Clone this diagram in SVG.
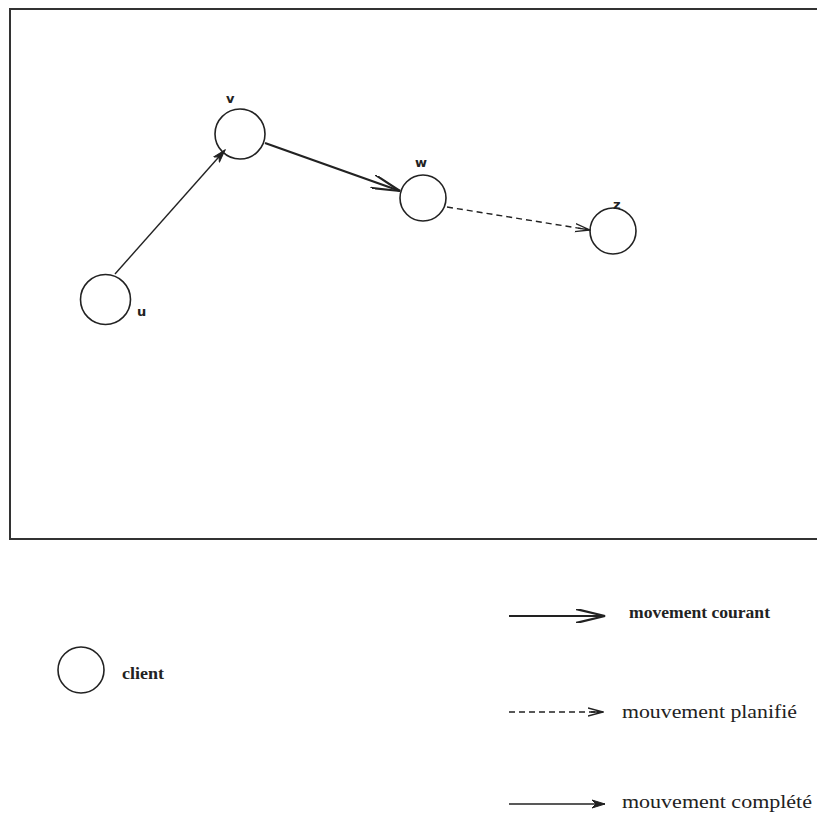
<svg xmlns="http://www.w3.org/2000/svg" width="817" height="822" viewBox="0 0 817 822">
<style>
.node{fill:none;stroke:#222;stroke-width:1.6}
.lbl{font-family:"DejaVu Sans","Liberation Sans",sans-serif;font-size:13px;font-weight:bold;fill:#222}
.leg{font-family:"Liberation Serif",serif;fill:#222}
.thin{stroke:#222;stroke-width:1.4;fill:none}
.thick{stroke:#222;stroke-width:2.2;fill:none}
.dash{stroke:#222;stroke-width:1.4;fill:none;stroke-dasharray:6 4}
</style>
<defs>
<marker id="open" markerWidth="30" markerHeight="14" refX="29" refY="7" orient="auto" markerUnits="userSpaceOnUse">
<path d="M0,0 L29,7 L0,14" fill="none" stroke="#222" stroke-width="2.2"/>
</marker>
<marker id="small" markerWidth="14" markerHeight="10" refX="13" refY="5" orient="auto" markerUnits="userSpaceOnUse">
<path d="M0,1 L13,5 L0,9 L4,5 Z" fill="#222" stroke="#222" stroke-width="1"/>
</marker>
<marker id="dopen" markerWidth="16" markerHeight="10" refX="15" refY="5" orient="auto" markerUnits="userSpaceOnUse">
<path d="M0,1 L15,5 L0,9 M3,5 L15,5" fill="none" stroke="#222" stroke-width="1.3"/>
</marker>
</defs>
<rect x="10" y="9" width="830" height="530" fill="none" stroke="#333" stroke-width="2"/>
<g id="connectors">
<line class="thin" x1="115" y1="274" x2="225" y2="150" marker-end="url(#small)"/>
<line class="thick" x1="265" y1="143" x2="400" y2="191" marker-end="url(#open)"/>
<line class="dash" x1="447" y1="207" x2="590" y2="230" marker-end="url(#dopen)"/>
</g>
<g id="node-u"><circle class="node" cx="105.5" cy="299.5" r="25"/><text class="lbl" x="137" y="316">u</text></g>
<g id="node-v"><circle class="node" cx="240" cy="134" r="25"/><text class="lbl" x="226" y="103">v</text></g>
<g id="node-w"><circle class="node" cx="423" cy="198" r="23"/><text class="lbl" x="415" y="167">w</text></g>
<g id="node-z"><circle class="node" cx="613" cy="231" r="23"/><text class="lbl" x="613" y="209">z</text></g>
<g id="legend">
<g id="leg-client"><circle class="node" cx="81" cy="670" r="23"/><text class="leg" x="122" y="679" font-size="17" font-weight="bold" textLength="42" lengthAdjust="spacingAndGlyphs">client</text></g>
<g id="leg-courant"><line class="thick" x1="509" y1="616" x2="605" y2="616" marker-end="url(#open)"/><text class="leg" x="629" y="618" font-size="17" font-weight="bold" textLength="141" lengthAdjust="spacingAndGlyphs">movement courant</text></g>
<g id="leg-planifie"><line class="dash" x1="509" y1="712" x2="603" y2="712" marker-end="url(#dopen)"/><text class="leg" x="622" y="718" font-size="19" textLength="175" lengthAdjust="spacingAndGlyphs">mouvement planifié</text></g>
<g id="leg-complete"><line class="thin" x1="509" y1="804" x2="605" y2="804" marker-end="url(#small)"/><text class="leg" x="622" y="808" font-size="19" textLength="190" lengthAdjust="spacingAndGlyphs">mouvement complété</text></g>
</g>
</svg>
